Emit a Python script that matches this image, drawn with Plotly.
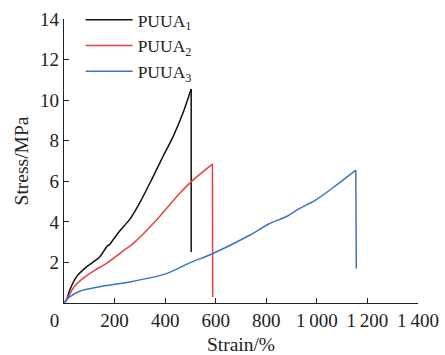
import plotly.graph_objects as go

# PUUA1 loading curve and break
strain1 = [0, 9.5, 22.5, 49, 89, 141, 174, 178, 183, 220, 260, 300, 352, 391, 431, 470, 503]
stress1 = [0, 0.14, 0.63, 1.29, 1.78, 2.27, 2.85, 2.84, 2.92, 3.55, 4.12, 4.95, 6.22, 7.21, 8.19, 9.35, 10.55]
break1_strain = [503, 503]
break1_stress = [10.55, 2.52]
# PUUA2
strain2 = [0, 20, 40, 75, 120, 168, 247, 273, 365, 457, 510, 587]
stress2 = [0, 0.38, 0.8, 1.21, 1.6, 1.95, 2.69, 2.93, 4.08, 5.40, 6.06, 6.85]
break2_strain = [587, 588]
break2_stress = [6.85, 0.3]
# PUUA3
strain3 = [0, 10, 22.5, 62, 141, 260, 405, 497, 589, 734, 813, 879, 932, 998, 1077, 1154]
stress3 = [0, 0.15, 0.30, 0.58, 0.80, 1.04, 1.45, 1.98, 2.44, 3.34, 3.92, 4.25, 4.66, 5.10, 5.81, 6.55]
break3_strain = [1154, 1156]
break3_stress = [6.55, 1.70]

names = ["PUUA<sub>1</sub>", "PUUA<sub>2</sub>", "PUUA<sub>3</sub>"]
colors = ["#111111", "#e8413f", "#3a74c4"]

x_ticks = [0, 200, 400, 600, 800, 1000, 1200, 1400]
x_ticktext = ["0\u2002\u2002", "200", "400", "600", "800", "1\u2009000", "1\u2009200", "1\u2009400"]
y_ticks = [2, 4, 6, 8, 10, 12, 14]

font = "Liberation Serif, Times New Roman, serif"

fig = go.Figure()
series = [(strain1, stress1, break1_strain, break1_stress),
          (strain2, stress2, break2_strain, break2_stress),
          (strain3, stress3, break3_strain, break3_stress)]
for i, ((xs, ys, bx, by), n, c) in enumerate(zip(series, names, colors)):
    fig.add_trace(go.Scatter(x=xs, y=ys, mode="lines", name=n, legendgroup=str(i),
                             line=dict(color=c, width=1.5, shape="spline", smoothing=0.8)))
    fig.add_trace(go.Scatter(x=bx, y=by, mode="lines", name=n, legendgroup=str(i),
                             showlegend=False, line=dict(color=c, width=1.5)))

fig.update_layout(
    width=445, height=355,
    margin=dict(l=64, r=27, t=19, b=52, autoexpand=False),
    paper_bgcolor="white", plot_bgcolor="white",
    font=dict(family=font, size=19, color="#222222"),
    showlegend=True,
    legend=dict(x=0.047, y=1.06, xanchor="left", yanchor="top",
                bgcolor="rgba(0,0,0,0)", font=dict(size=17.5),
                tracegroupgap=0, itemwidth=47),
    xaxis=dict(range=[0, 1400], tickvals=x_ticks, ticktext=x_ticktext,
               showgrid=False, zeroline=False, showline=True, linecolor="#222222",
               linewidth=1.2, ticks="inside", ticklen=5, tickcolor="#222222",
               ticklabelstandoff=0,
               title=dict(text="Strain/%", standoff=10, font=dict(size=19.5))),
    yaxis=dict(range=[0, 14], tickvals=y_ticks,
               showgrid=False, zeroline=False, showline=True, linecolor="#222222",
               linewidth=1.2, ticks="inside", ticklen=5, tickcolor="#222222",
               title=dict(text="Stress/MPa", standoff=6, font=dict(size=19.5))),
)

fig.write_html("out.html")
